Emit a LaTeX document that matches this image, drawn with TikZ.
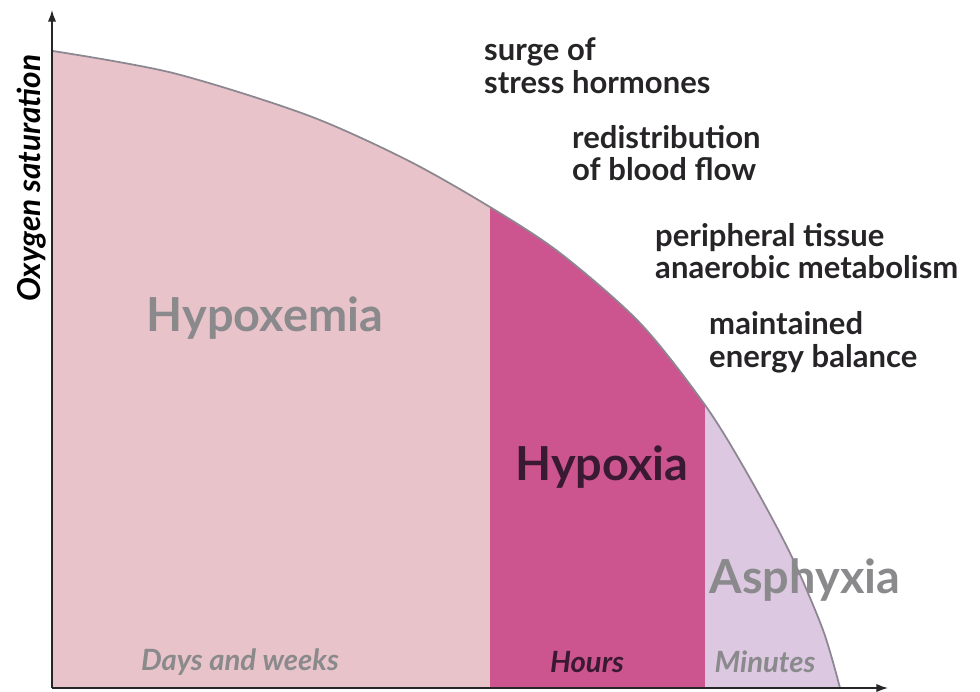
\documentclass[tikz,border=0pt]{standalone}
\usepackage{fontspec}
\setmainfont{Lato}
\usepackage{tikz}
\usetikzlibrary{arrows.meta,positioning}

\definecolor{hypoxemiafill}{HTML}{E8C4CA}
\definecolor{hypoxiafill}{HTML}{CC5590}
\definecolor{asphyxiafill}{HTML}{DCC8E0}
\definecolor{curvegray}{HTML}{8C8790}
\definecolor{labelgray}{HTML}{8A898C}
\definecolor{labeldark}{HTML}{3A1A32}
\definecolor{notedark}{HTML}{262426}

\begin{document}
\begin{tikzpicture}[
            x=0.3mm, y=-0.3mm,
            every node/.style={ inner sep=0pt },
            phase/.style={ font=\fontsize{40}{44}\selectfont\bfseries },
            span/.style={ font=\fontsize{25}{28}\selectfont\bfseries\itshape },
            note/.style={ font=\fontsize{26.5}{28}\selectfont\bfseries, text=notedark, align=left, anchor=west },
            axis/.style={ line width=1.2pt, draw=black!85, -{Latex[length=3.5mm,width=2.5mm]} }
        ]

        \useasboundingbox (0,0) rectangle (980,691);

        % the saturation curve
        \def\satcurve{plot[smooth] coordinates {(53,51) (173,73) (307,115) (407,160) (490,207) (560,253) (640,323) (705,405) (747,473) (790,553) (823,630) (840,688)}}

        \begin{scope}
            \clip \satcurve -- (53,688) -- cycle;
            \fill[hypoxemiafill] (53,0) rectangle (490,691);
            \fill[hypoxiafill] (490,0) rectangle (705,691);
            \fill[asphyxiafill] (705,0) rectangle (900,691);
        \end{scope}
        \draw[curvegray, line width=1.5pt] \satcurve;

        \coordinate (origin) at (52,688);
        \coordinate (ytop) at (52,10);
        \coordinate (xend) at (888,688);
        \draw[axis] (origin) -- (ytop);
        \draw[axis] (origin) -- (xend);

        \node[font=\fontsize{27}{30}\selectfont\bfseries\itshape, rotate=90] (ylabel) at (32,178) {Oxygen saturation};

        \node[phase, text=labelgray] (hypoxemia) at (265,318) {Hypoxemia};
        \node[phase, text=labeldark] (hypoxia) at (602,467) {Hypoxia};
        \node[phase, text=labelgray] (asphyxia) at (805,580) {Asphyxia};

        \node[span, text=labelgray] (days) at (240,662) {Days and weeks};
        \node[span, text=labeldark] (hours) at (587,662) {Hours};
        \node[span, text=labelgray] (minutes) at (765,662) {Minutes};

        \node[note] (surge) at (484,66) {surge of\\stress hormones};
        \node[note] (redist) at (572,153) {redistribution\\of blood flow};
        \node[note] (periph) at (655,251) {peripheral tissue\\anaerobic metabolism};
        \node[note] (energy) at (709,342) {maintained\\energy balance};
    \end{tikzpicture}
\end{document}
